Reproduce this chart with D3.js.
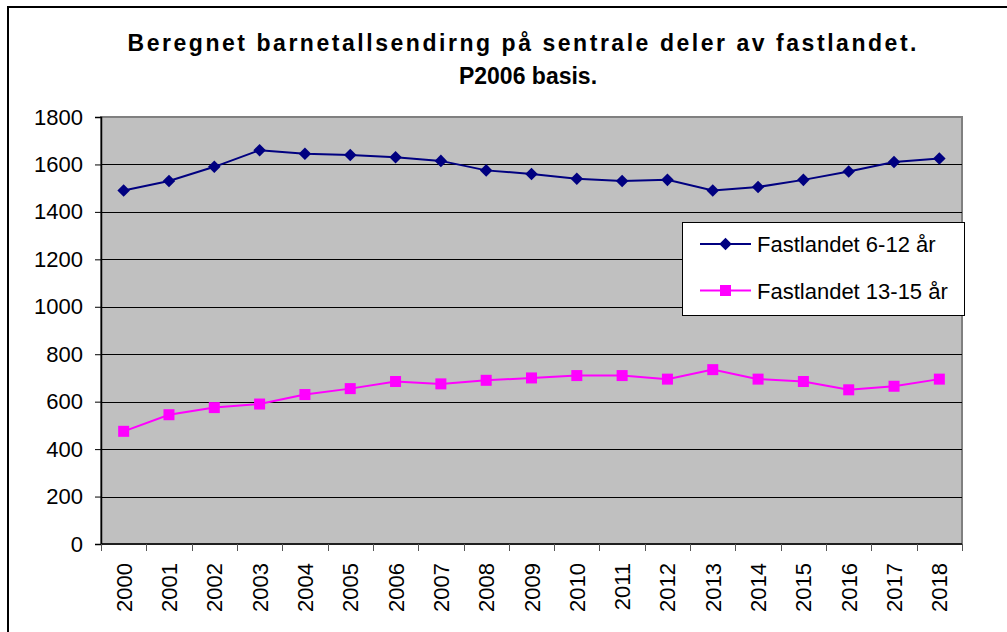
<!DOCTYPE html>
<html>
<head>
<meta charset="utf-8">
<script src="https://cdn.jsdelivr.net/npm/d3@7"></script>
<style>
  body { margin: 0; background: #fff; }
  svg { display: block; font-family: Arial, "Liberation Sans", sans-serif; }
</style>
</head>
<body>
<div id="chart"></div>
<script>
var years = ["2000","2001","2002","2003","2004","2005","2006","2007","2008","2009",
             "2010","2011","2012","2013","2014","2015","2016","2017","2018"];
var fastland612 = [1490,1530,1590,1660,1645,1640,1630,1615,1575,1560,
                   1540,1530,1535,1490,1505,1535,1570,1610,1625];
var fastland1315 = [475,545,575,590,630,655,685,675,690,700,
                    710,710,695,735,695,685,650,665,695];
var yTicks = [0,200,400,600,800,1000,1200,1400,1600,1800];
var titleLines = ["Beregnet barnetallsendirng på sentrale deler av fastlandet.", "P2006 basis."];
var seriesNames = ["Fastlandet 6-12 år", "Fastlandet 13-15 år"];

var W = 1007, H = 632;
var margin = {top: 117, right: 45, bottom: 88, left: 101};
var width = W - margin.left - margin.right;   // 861
var height = H - margin.top - margin.bottom;  // 427

var svg = d3.select("#chart").append("svg")
  .attr("width", W).attr("height", H);

// outer chart border (runs past the right and bottom edge)
svg.append("rect")
  .attr("x", 8).attr("y", 7).attr("width", 1020).attr("height", 650)
  .attr("fill", "#fff").attr("stroke", "#000").attr("stroke-width", 2);

// title - excel spaces the letters out a bit
svg.append("text")
  .attr("x", 522).attr("y", 51)
  .attr("text-anchor", "middle")
  .attr("font-size", 23).attr("font-weight", "bold")
  .attr("textLength", 789).attr("lengthAdjust", "spacing")
  .text(titleLines[0]);
svg.append("text")
  .attr("x", 528).attr("y", 84)
  .attr("text-anchor", "middle")
  .attr("font-size", 23).attr("font-weight", "bold")
  .text(titleLines[1]);

var g = svg.append("g")
  .attr("transform", "translate(" + margin.left + "," + margin.top + ")");

var x = d3.scaleBand().domain(years).range([0, width]);
var y = d3.scaleLinear().domain([0, 1800]).range([height, 0]);

// plot area
g.append("rect")
  .attr("width", width).attr("height", height)
  .attr("fill", "#c0c0c0")
  .attr("stroke", "#808080").attr("stroke-width", 2);

// gridlines
g.selectAll(".grid").data(yTicks.filter(function(d){ return d > 0 && d < 1800; }))
  .enter().append("line")
  .attr("x1", 0).attr("x2", width)
  .attr("y1", function(d){ return Math.round(y(d)) + 0.5; })
  .attr("y2", function(d){ return Math.round(y(d)) + 0.5; })
  .attr("stroke", "#000").attr("stroke-width", 1);

// y axis
var yAxis = g.append("g")
  .call(d3.axisLeft(y).tickValues(yTicks).tickFormat(d3.format("d"))
    .tickSize(6).tickPadding(12));
yAxis.select(".domain").attr("stroke", "#000").attr("stroke-width", 1.5);
yAxis.selectAll(".tick line").attr("stroke", "#000");
yAxis.selectAll(".tick text").attr("font-size", 22).attr("fill", "#000")
  .attr("font-family", "Arial, 'Liberation Sans', sans-serif");

// x axis: ticks between categories
var xAxisG = g.append("g").attr("transform", "translate(0," + height + ")");
xAxisG.append("line")
  .attr("x1", 0).attr("x2", width).attr("y1", 0).attr("y2", 0)
  .attr("stroke", "#000").attr("stroke-width", 1.5);
var bounds = years.map(function(d){ return x(d); }).concat([width]);
xAxisG.selectAll(".xt").data(bounds).enter().append("line")
  .attr("x1", function(d){ return Math.round(d) + 0.5; })
  .attr("x2", function(d){ return Math.round(d) + 0.5; })
  .attr("y1", 0).attr("y2", 7)
  .attr("stroke", "#555").attr("stroke-width", 1);
xAxisG.selectAll(".xl").data(years).enter().append("text")
  .attr("transform", function(d){
    return "translate(" + (x(d) + x.bandwidth()/2 + 8) + ",19) rotate(-90)";
  })
  .attr("text-anchor", "end")
  .attr("font-size", 22)
  .text(function(d){ return d; });

var line = d3.line()
  .x(function(d, i){ return x(years[i]) + x.bandwidth()/2; })
  .y(function(d){ return y(d); });

// series 1: navy diamonds
g.append("path").datum(fastland612)
  .attr("d", line).attr("fill", "none")
  .attr("stroke", "#000080").attr("stroke-width", 2);
var diamond = d3.symbol().type(d3.symbolDiamond2).size(100);
g.selectAll(".d1").data(fastland612).enter().append("path")
  .attr("d", diamond)
  .attr("transform", function(d, i){
    return "translate(" + (x(years[i]) + x.bandwidth()/2) + "," + y(d) + ")";
  })
  .attr("fill", "#000080");

// series 2: magenta squares
g.append("path").datum(fastland1315)
  .attr("d", line).attr("fill", "none")
  .attr("stroke", "#ff00ff").attr("stroke-width", 2);
g.selectAll(".s2").data(fastland1315).enter().append("rect")
  .attr("x", function(d, i){ return x(years[i]) + x.bandwidth()/2 - 5.5; })
  .attr("y", function(d){ return y(d) - 5.5; })
  .attr("width", 11).attr("height", 11)
  .attr("fill", "#ff00ff");

// legend
var legend = svg.append("g").attr("transform", "translate(682,222)");
legend.append("rect")
  .attr("x", 0.5).attr("y", 0.5).attr("width", 282).attr("height", 93)
  .attr("fill", "#fff").attr("stroke", "#000").attr("stroke-width", 1);
var legColors = ["#000080", "#ff00ff"];
seriesNames.forEach(function(name, i){
  var cy = 22 + i * 46.5;
  legend.append("line")
    .attr("x1", 18).attr("x2", 69).attr("y1", cy).attr("y2", cy)
    .attr("stroke", legColors[i]).attr("stroke-width", 2);
  if (i === 0) {
    legend.append("path").attr("d", diamond)
      .attr("transform", "translate(43.5," + cy + ")")
      .attr("fill", legColors[i]);
  } else {
    legend.append("rect")
      .attr("x", 38).attr("y", cy - 5.5).attr("width", 11).attr("height", 11)
      .attr("fill", legColors[i]);
  }
  legend.append("text")
    .attr("x", 75).attr("y", cy + 8)
    .attr("font-size", 22)
    .text(name);
});
</script>
</body>
</html>
